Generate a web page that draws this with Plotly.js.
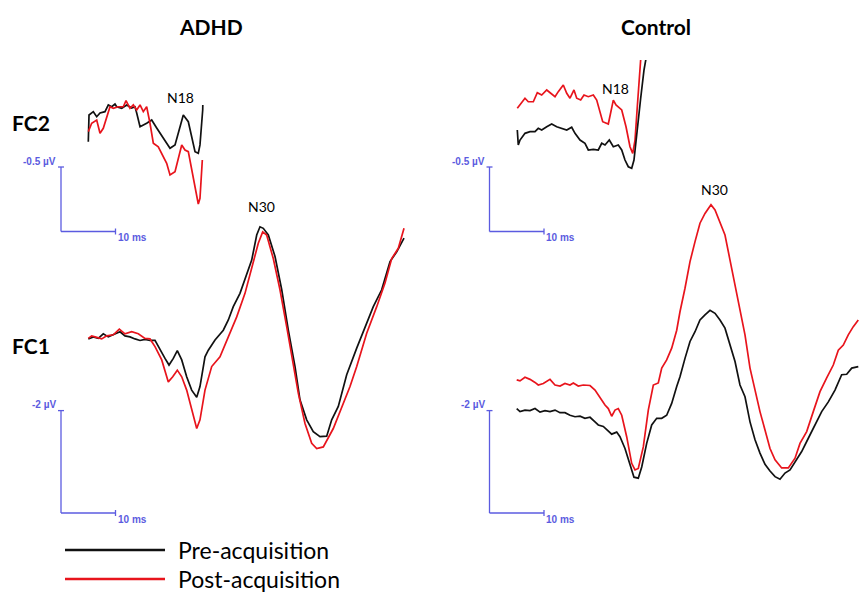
<!DOCTYPE html>
<html>
<head>
<meta charset="utf-8">
<script src="https://cdn.plot.ly/plotly-3.0.1.min.js"></script>
<style>html,body{margin:0;padding:0;background:#fff;}#chart{width:859px;height:595px;}</style>
</head>
<body>
<div id="chart"></div>
<script>
// ---- Data (time in ms, amplitude in µV, negative plotted upward) ----
const groups = ["ADHD", "Control"];
const channels = ["FC2", "FC1"];
const seriesNames = ["Pre-acquisition", "Post-acquisition"];
const peakLabels = ["N18", "N30"];
const scaleMs = 10;
const scaleUvFC2 = -0.5;
const scaleUvFC1 = -2;

// ADHD FC2
const adhdFC2PreT = [5.01,5.14,5.93,6.55,7.16,8.07,8.68,9.30,9.91,10.22,11.14,12.06,12.97,13.58,13.89,14.50,15.72,16.64,17.56,18.77,20.00,20.92,22.44,23.36,23.98,24.59,25.19,25.50,26.00,26.02];
const adhdFC2PreV = [-0.696,-0.903,-0.929,-0.890,-0.919,-0.929,-0.981,-0.967,-0.988,-0.967,-0.955,-0.981,-0.957,-0.967,-0.919,-0.812,-0.839,-0.864,-0.802,-0.722,-0.645,-0.671,-0.903,-0.851,-0.735,-0.619,-0.606,-0.671,-0.942,-0.981];
const adhdFC2PostT = [5.01,5.63,6.55,7.16,7.76,8.39,8.99,9.60,10.51,11.43,11.93,12.66,13.27,13.89,14.50,15.10,15.72,16.33,16.94,17.85,18.77,19.39,20.00,20.92,22.15,22.75,23.36,23.98,24.59,25.19,25.50,25.82,25.93];
const adhdFC2PostV = [-0.774,-0.839,-0.864,-0.761,-0.800,-0.890,-0.967,-0.955,-0.967,-0.967,-1.014,-0.955,-0.981,-0.942,-0.981,-0.929,-0.967,-0.839,-0.684,-0.657,-0.580,-0.529,-0.438,-0.464,-0.671,-0.632,-0.619,-0.477,-0.322,-0.213,-0.257,-0.502,-0.554];

// ADHD FC1
const adhdFC1PreT = [5.01,5.93,6.84,7.76,8.68,9.60,10.83,11.74,12.66,13.58,14.50,15.41,16.33,17.25,18.17,19.08,19.82,20.61,21.34,22.15,23.06,23.98,24.90,25.50,26.42,27.03,28.26,29.78,30.70,31.61,32.84,34.07,34.99,35.91,36.51,37.12,38.04,39.27,40.50,41.71,42.94,43.85,45.08,46.29,47.52,48.75,49.67,50.88,52.42,54.26,55.78,57.30,58.84,60.37,61.60,62.94];
const adhdFC1PreV = [-3.40,-3.44,-3.41,-3.50,-3.44,-3.48,-3.54,-3.46,-3.44,-3.40,-3.37,-3.39,-3.37,-3.37,-3.18,-3.02,-2.89,-3.02,-3.17,-2.99,-2.66,-2.40,-2.26,-2.47,-3.05,-3.18,-3.38,-3.57,-3.77,-4.03,-4.29,-4.68,-4.94,-5.43,-5.59,-5.56,-5.43,-5.01,-4.36,-3.57,-2.86,-2.21,-1.82,-1.59,-1.49,-1.50,-1.82,-2.08,-2.70,-3.22,-3.64,-4.03,-4.36,-4.91,-5.10,-5.37];
const adhdFC1PostT = [5.01,5.63,6.55,7.47,8.39,9.60,10.70,11.74,12.97,14.18,15.41,16.33,17.25,18.48,19.69,20.50,21.34,22.15,23.06,23.98,24.90,25.50,26.42,27.65,29.17,30.70,32.24,33.76,35.28,36.20,37.01,37.74,38.95,40.18,41.41,42.62,43.54,44.77,46.00,46.92,48.13,49.96,51.80,53.03,54.26,56.09,57.93,59.45,60.68,61.89,62.94];
const adhdFC1PostV = [-3.41,-3.46,-3.43,-3.40,-3.46,-3.48,-3.59,-3.50,-3.54,-3.50,-3.41,-3.40,-3.25,-2.99,-2.56,-2.66,-2.79,-2.66,-2.40,-2.01,-1.65,-1.82,-2.40,-2.86,-3.05,-3.44,-3.83,-4.29,-4.88,-5.27,-5.49,-5.43,-4.97,-4.36,-3.64,-2.92,-2.34,-1.75,-1.36,-1.26,-1.29,-1.65,-2.14,-2.47,-2.86,-3.51,-4.03,-4.49,-4.97,-5.17,-5.56];

// Control FC2
const ctrlFC2PreT = [5.10,5.28,5.60,6.51,7.43,8.35,8.95,9.58,10.50,11.41,12.33,13.25,14.17,15.08,15.69,16.61,17.52,18.13,19.05,19.96,20.59,21.19,21.98,22.72,23.63,24.26,24.86,25.47,26.09,26.51,27.12,27.74,28.35,28.99];
const ctrlFC2PreV = [-0.787,-0.671,-0.709,-0.761,-0.774,-0.774,-0.800,-0.787,-0.812,-0.833,-0.812,-0.800,-0.787,-0.808,-0.761,-0.709,-0.684,-0.632,-0.637,-0.632,-0.684,-0.671,-0.709,-0.657,-0.671,-0.632,-0.554,-0.502,-0.490,-0.554,-0.812,-1.033,-1.252,-1.407];
const ctrlFC2PostT = [5.10,5.60,6.51,7.12,8.04,8.77,9.58,10.50,11.23,12.02,12.62,13.54,14.17,14.77,15.50,16.00,16.73,17.34,18.13,19.05,19.67,20.28,20.77,21.80,22.24,22.72,23.21,24.26,25.05,25.78,26.28,26.70,27.12,27.61,27.80];
const ctrlFC2PostV = [-0.955,-0.981,-1.033,-1.006,-1.006,-1.076,-1.058,-1.097,-1.071,-1.045,-1.084,-1.136,-1.071,-1.033,-1.097,-1.033,-1.019,-1.058,-1.045,-1.058,-1.019,-0.916,-0.851,-0.833,-0.916,-1.019,-0.981,-0.942,-0.812,-0.657,-0.606,-0.709,-0.967,-1.252,-1.368];

// Control FC1
const ctrlFC1PreT = [4.99,5.60,6.51,7.43,8.35,9.27,10.18,11.10,12.02,12.94,13.85,14.77,15.69,16.61,17.52,18.44,19.36,19.96,20.88,21.80,22.42,23.34,23.94,24.86,25.78,26.51,27.30,27.93,28.84,29.76,30.68,31.60,32.51,33.43,34.35,34.95,35.87,36.79,37.71,38.62,39.54,40.46,41.38,42.29,43.21,44.13,45.05,45.96,46.88,47.80,48.72,49.63,50.55,51.47,52.39,53.30,54.22,55.14,56.06,57.28,58.50,59.72,60.95,62.17,63.39,64.62,65.54,66.46,67.67];
const ctrlFC1PreV = [-2.04,-1.98,-2.01,-2.00,-2.04,-1.97,-2.00,-1.98,-2.01,-1.96,-1.96,-1.91,-1.88,-1.89,-1.85,-1.87,-1.78,-1.72,-1.69,-1.59,-1.54,-1.58,-1.49,-1.26,-0.97,-0.70,-0.68,-0.90,-1.36,-1.72,-1.85,-1.85,-1.91,-2.14,-2.47,-2.66,-3.02,-3.35,-3.54,-3.77,-3.87,-3.96,-3.90,-3.77,-3.61,-3.28,-2.96,-2.50,-2.27,-1.78,-1.43,-1.17,-0.95,-0.82,-0.71,-0.66,-0.78,-0.84,-1.00,-1.20,-1.46,-1.72,-1.98,-2.17,-2.40,-2.70,-2.71,-2.83,-2.86];
const ctrlFC1PostT = [4.99,5.60,6.51,7.43,8.35,8.95,9.87,11.10,12.02,12.94,13.85,14.77,15.38,16.29,17.21,18.44,19.36,20.28,21.19,21.80,22.42,23.03,23.63,24.26,25.17,26.09,26.70,27.30,28.22,29.14,30.06,30.97,31.60,32.51,33.43,34.35,34.95,35.87,36.79,37.71,38.62,39.54,40.64,41.38,42.29,43.21,44.13,45.05,45.96,46.88,47.80,48.72,49.63,50.55,51.47,52.39,53.61,54.83,56.06,56.97,58.20,59.41,60.64,61.87,63.08,64.00,64.92,65.83,66.75,67.67];
const ctrlFC1PostV = [-2.60,-2.58,-2.65,-2.61,-2.55,-2.50,-2.53,-2.61,-2.50,-2.48,-2.53,-2.50,-2.54,-2.48,-2.50,-2.49,-2.40,-2.24,-2.11,-2.04,-1.89,-2.01,-2.04,-1.91,-1.49,-0.97,-0.84,-0.87,-1.29,-2.01,-2.50,-2.54,-2.83,-2.99,-3.22,-3.57,-3.93,-4.39,-4.91,-5.30,-5.66,-5.85,-6.02,-5.92,-5.69,-5.43,-4.94,-4.45,-3.93,-3.48,-2.83,-2.37,-1.98,-1.62,-1.26,-1.04,-0.88,-0.88,-1.07,-1.36,-1.59,-1.98,-2.37,-2.64,-2.89,-3.18,-3.28,-3.48,-3.64,-3.77];

// ---- Styling ----
const colPre = "#111111";
const colPost = "#e8141c";
const colScale = "#5b5be0";
const W = 859, H = 595;
const lw = 1.7;

function tr(x, y, color, xa, ya) {
  return {type: "scatter", mode: "lines", x: x, y: y, xaxis: xa, yaxis: ya,
          line: {color: color, width: lw, shape: "linear"}, hoverinfo: "skip", showlegend: false};
}

const traces = [
  tr(adhdFC2PreT, adhdFC2PreV, colPre, "x", "y"),
  tr(adhdFC2PostT, adhdFC2PostV, colPost, "x", "y"),
  tr(adhdFC1PreT, adhdFC1PreV, colPre, "x", "y2"),
  tr(adhdFC1PostT, adhdFC1PostV, colPost, "x", "y2"),
  tr(ctrlFC2PostT, ctrlFC2PostV, colPost, "x2", "y"),
  tr(ctrlFC2PreT, ctrlFC2PreV, colPre, "x2", "y"),
  tr(ctrlFC1PostT, ctrlFC1PostV, colPost, "x2", "y2"),
  tr(ctrlFC1PreT, ctrlFC1PreV, colPre, "x2", "y2")
];

const hidden = {visible: false, fixedrange: true, showgrid: false, zeroline: false};
const shapes = [];
const annotations = [];

// scale bars for each panel
[["x", "y", scaleUvFC2, "-0.5 µV"], ["x", "y2", scaleUvFC1, "-2 µV"],
 ["x2", "y", scaleUvFC2, "-0.5 µV"], ["x2", "y2", scaleUvFC1, "-2 µV"]].forEach(function (s) {
  const xr = s[0], yr = s[1], uv = s[2];
  const ln = {color: colScale, width: 1.3};
  shapes.push({type: "line", xref: xr, yref: yr, x0: 0, x1: 0, y0: 0, y1: uv, line: ln});
  shapes.push({type: "line", xref: xr, yref: yr, x0: 0, x1: scaleMs, y0: 0, y1: 0, line: ln});
  shapes.push({type: "line", xref: xr, yref: yr, xsizemode: "pixel", xanchor: 0, x0: -3, x1: 3, y0: uv, y1: uv, line: ln});
  shapes.push({type: "line", xref: xr, yref: yr, ysizemode: "pixel", yanchor: 0, y0: -3, y1: 3, x0: scaleMs, x1: scaleMs, line: ln});
  annotations.push({xref: xr, yref: yr, x: 0, y: uv, text: "<b>" + s[3] + "</b>", showarrow: false,
    xanchor: "right", yanchor: "middle", xshift: -3, yshift: 6,
    font: {family: "Liberation Sans, Arial", size: 10, color: colScale}});
  annotations.push({xref: xr, yref: yr, x: scaleMs, y: 0, text: "<b>10 ms</b>", showarrow: false,
    xanchor: "left", yanchor: "middle", xshift: 0, yshift: -6,
    font: {family: "Liberation Sans, Arial", size: 10, color: colScale}});
});

function pa(px, py, text, size, anchor, bold) {
  annotations.push({xref: "paper", yref: "paper", x: px / W, y: 1 - py / H,
    text: bold ? "<b>" + text + "</b>" : text, showarrow: false,
    xanchor: anchor || "center", yanchor: "middle",
    font: {family: "Lato, Open Sans, sans-serif", size: size, color: "#000"}});
}
pa(211, 27, groups[0], 21, "center", true);
pa(656, 27, groups[1], 21, "center", true);
pa(10, 123, channels[0], 21, "left", true);
pa(10, 345, channels[1], 21, "left", true);
pa(180.5, 98, peakLabels[0], 14);
pa(615.5, 88, peakLabels[0], 14);
pa(261, 206, peakLabels[1], 14);
pa(714.5, 189, peakLabels[1], 14);

// legend
[[colPre, 550, seriesNames[0]], [colPost, 579, seriesNames[1]]].forEach(function (l) {
  shapes.push({type: "line", xref: "paper", yref: "paper", x0: 65 / W, x1: 165 / W,
    y0: 1 - l[1] / H, y1: 1 - l[1] / H, line: {color: l[0], width: 2.6}});
  pa(176, l[1], l[2], 23, "left", false);
});

const layout = {
  width: W, height: H,
  margin: {l: 0, r: 0, t: 0, b: 0, pad: 0},
  paper_bgcolor: "#ffffff", plot_bgcolor: "rgba(0,0,0,0)",
  showlegend: false,
  xaxis: Object.assign({domain: [0, 430 / W], range: [-61 / 5.45, 369 / 5.45], anchor: "y2"}, hidden),
  xaxis2: Object.assign({domain: [430 / W, 1], range: [(430 - 489.5) / 5.45, (859 - 489.5) / 5.45], anchor: "y2"}, hidden),
  yaxis: Object.assign({domain: [1 - 245 / H, 1 - 60 / H], range: [(245 - 231.5) / 129, (60 - 231.5) / 129], anchor: "x"}, hidden),
  yaxis2: Object.assign({domain: [1 - 530 / H, 1 - 195 / H], range: [(530 - 513) / 51.2, (195 - 513) / 51.2], anchor: "x"}, hidden),
  shapes: shapes,
  annotations: annotations
};

Plotly.newPlot("chart", traces, layout, {staticPlot: true, displayModeBar: false});
</script>
</body>
</html>
